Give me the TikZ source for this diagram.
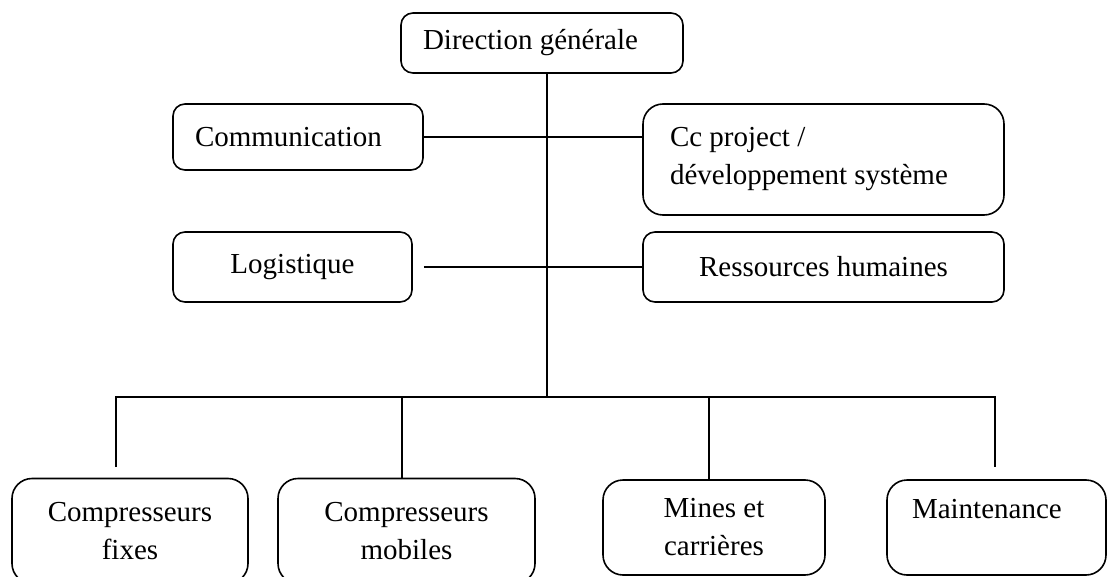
\documentclass[tikz,border=0pt]{standalone}
\usepackage{fontspec}
\setmainfont{Liberation Serif}
\begin{document}
\begin{tikzpicture}[x=1pt,y=-1pt,line width=1.6pt,
  box/.style={draw,rounded corners=12pt,inner sep=0pt,align=center,
    font=\fontsize{29}{38}\selectfont},
  bigbox/.style={box,rounded corners=20pt},
  lbox/.style={box,align=flush left,inner ysep=0pt}]
  \useasboundingbox (0,0) rectangle (1107,577);

  % top level
  \node[lbox,inner xsep=22pt,text width=238pt,minimum height=60pt] (dir) at (542,43) {Direction générale};

  % staff units
  \node[lbox,inner xsep=22pt,text width=206pt,minimum height=66pt] (comm) at (298,137) {Communication};
  \node[lbox,bigbox,align=flush left,inner xsep=27pt,text width=307pt,minimum height=111pt] (cc) at (823.5,159.5) {Cc project /\\développement système};
  \node[box,minimum width=239pt,minimum height=70pt] (log) at (292.5,267) {Logistique};
  \node[box,minimum width=361pt,minimum height=70pt] (rh) at (823.5,267) {Ressources humaines};

  % operational units
  \node[bigbox,minimum width=236pt,minimum height=105pt] (cf) at (130,531) {Compresseurs\\fixes};
  \node[bigbox,minimum width=257pt,minimum height=105pt] (cm) at (406.5,531) {Compresseurs\\mobiles};
  \node[bigbox,minimum width=222pt,minimum height=95pt] (mc) at (714,527.5) {Mines et\\carrières};
  \node[lbox,bigbox,align=flush left,inner xsep=25pt,text width=169pt,minimum height=95pt] (mt) at (996.5,527.5) {Maintenance\\\mbox{}};

  % trunk and bus
  \coordinate (trunk) at (547,397);
  \coordinate (b1) at (116,397);
  \coordinate (b2) at (402,397);
  \coordinate (b3) at (709,397);
  \coordinate (b4) at (995,397);
  \coordinate (e1) at (116,467);
  \coordinate (e4) at (995,467);

  \draw (dir.south -| trunk) -- (trunk);
  \draw (comm.east) -- (comm.east -| cc.west);
  \draw[shorten <=11pt] (log.east) -- (log.east -| rh.west);
  \draw (e1) -- (b1) -- (b4) -- (e4);
  \draw (b2) -- (b2 |- cm.north);
  \draw (b3) -- (b3 |- mc.north);
\end{tikzpicture}
\end{document}
